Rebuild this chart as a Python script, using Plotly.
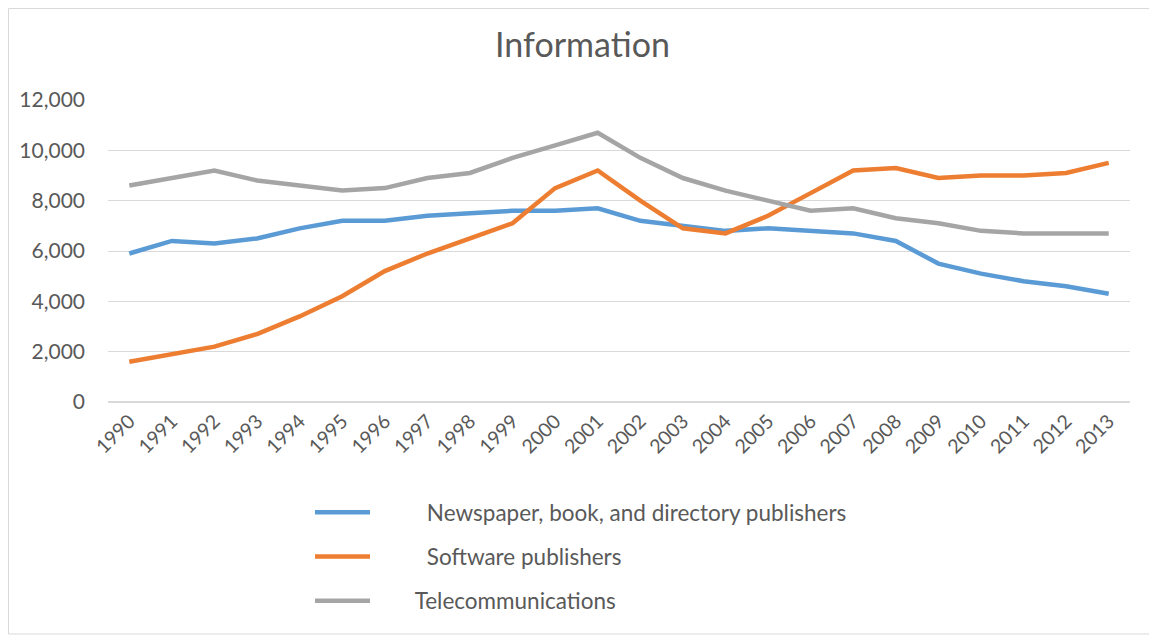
import plotly.graph_objects as go

years = [str(y) for y in range(1990, 2014)]

newspaper = [5900, 6400, 6300, 6500, 6900, 7200, 7200, 7400, 7500, 7600, 7600, 7700,
             7200, 7000, 6800, 6900, 6800, 6700, 6400, 5500, 5100, 4800, 4600, 4300]
software = [1600, 1900, 2200, 2700, 3400, 4200, 5200, 5900, 6500, 7100, 8500, 9200,
            8000, 6900, 6700, 7400, 8300, 9200, 9300, 8900, 9000, 9000, 9100, 9500]
telecom = [8600, 8900, 9200, 8800, 8600, 8400, 8500, 8900, 9100, 9700, 10200, 10700,
           9700, 8900, 8400, 8000, 7600, 7700, 7300, 7100, 6800, 6700, 6700, 6700]

# the original legend has leading blanks before the labels
series_names = ["\u00a0" * 9 + "Newspaper, book, and directory publishers",
                "\u00a0" * 9 + "Software publishers",
                "\u00a0" * 7 + "Telecommunications"]
colors = ["#5B9BD5", "#ED7D31", "#A5A5A5"]

font_family = "Lato, 'Open Sans', sans-serif"
text_color = "#595959"

# page body has an 8px margin, so the figure is a bit smaller and shifted
W, H = 1149, 628
L, T, PW, PH = 100, 92, 1022, 302

fig = go.Figure()
for i, (name, vals) in enumerate(zip(series_names, [newspaper, software, telecom])):
    fig.add_trace(go.Scatter(
        x=years, y=vals, mode="lines", name=name,
        legendgroup="g%d" % i,
        line=dict(color=colors[i], width=4.5),
    ))

fig.update_layout(
    width=W, height=H,
    paper_bgcolor="white", plot_bgcolor="white",
    margin=dict(l=L, r=W - L - PW, t=T, b=H - T - PH),
    title=dict(text="Information", x=0.5, xanchor="center", y=1 - 37 / H, yanchor="middle",
               font=dict(family=font_family, size=34, color=text_color)),
    font=dict(family=font_family, color=text_color),
    showlegend=True,
    legend=dict(x=(302 - L) / PW, xanchor="left", y=(T + PH - 483) / PH, yanchor="top",
                orientation="v", font=dict(size=22.5, color=text_color), itemwidth=55,
                tracegroupgap=12, bgcolor="rgba(0,0,0,0)"),
    xaxis=dict(type="category", tickangle=-45, showgrid=False, showline=False,
               ticks="", ticklabelstandoff=3,
               tickfont=dict(size=19.5, color=text_color), range=[-0.5, 23.5]),
    yaxis=dict(range=[0, 12000], dtick=2000, tickformat=",", showgrid=True,
               gridcolor="#D9D9D9", gridwidth=1, zeroline=True, zerolinecolor="#D9D9D9",
               showline=False, ticks="", ticklabelstandoff=22,
               tickfont=dict(size=21, color=text_color)),
)

# thin frame around the chart
fig.add_shape(type="rect", xref="paper", yref="paper",
              x0=(0.5 - L) / PW, x1=(1147 - L) / PW,
              y0=(T + PH - 626) / PH, y1=(T + PH - 0.5) / PH,
              line=dict(color="#D9D9D9", width=1), fillcolor="rgba(0,0,0,0)", layer="below")

fig.write_html("out.html")
